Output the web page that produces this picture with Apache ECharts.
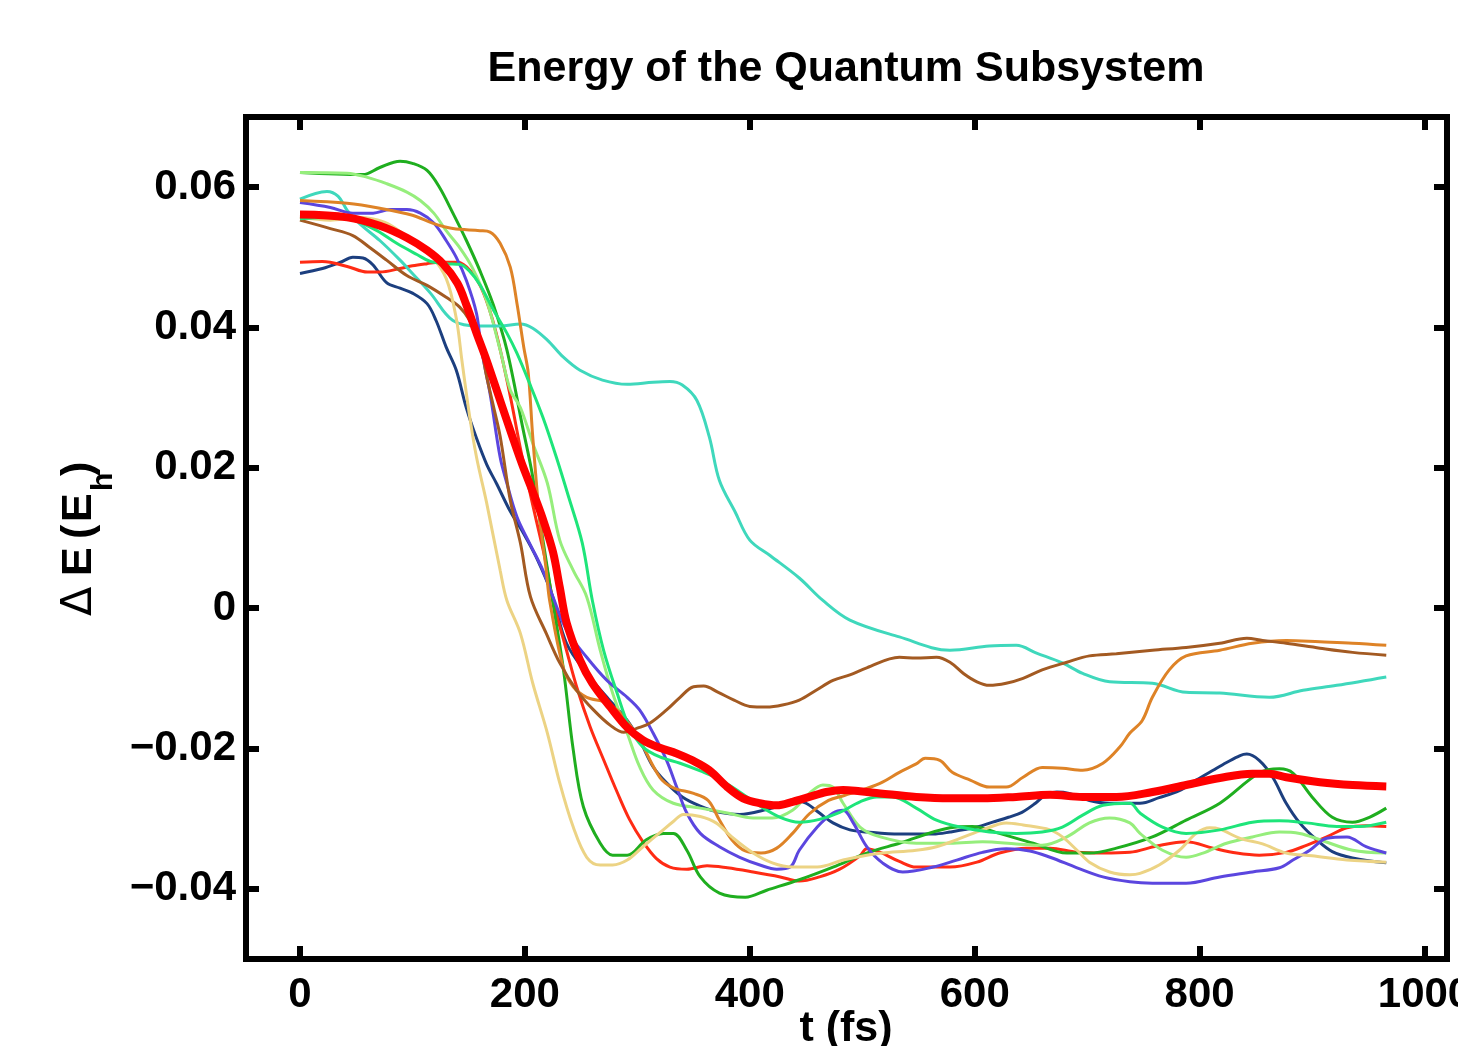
<!DOCTYPE html>
<html>
<head>
<meta charset="utf-8">
<script src="https://cdn.jsdelivr.net/npm/echarts@6/dist/echarts.min.js"></script>
<style>
html,body{margin:0;padding:0;background:#fff;}
#chart{width:1458px;height:1046px;}
</style>
</head>
<body>
<div id="chart"></div>
<script>
// Axis ticks
var xTicks = [0, 200, 400, 600, 800, 1000];
var yTicks = [-0.04, -0.02, 0, 0.02, 0.04, 0.06];

// Trajectories: [t (fs), Delta E (Eh)]
var navyTraj = [[0,0.0477],[20,0.0484],[36,0.0493],[47,0.0500],[56,0.0499],[65,0.0489],[77,0.0464],[89,0.0456],[100,0.0449],[113,0.0434],[121,0.0410],[130,0.0372],[139,0.0339],[148,0.0285],[157,0.0242],[166,0.0205],[175,0.0177],[187,0.0138],[199,0.0106],[210,0.0073],[224,0.0020],[237,-0.0050],[255,-0.0093],[273,-0.0127],[291,-0.0160],[302,-0.0188],[314,-0.0226],[326,-0.0249],[340,-0.0269],[356,-0.0282],[373,-0.0291],[391,-0.0294],[415,-0.0287],[429,-0.0280],[438,-0.0273],[450,-0.0278],[462,-0.0292],[474,-0.0306],[489,-0.0316],[504,-0.0319],[533,-0.0322],[563,-0.0322],[578,-0.0319],[602,-0.0312],[616,-0.0305],[630,-0.0298],[642,-0.0291],[654,-0.0278],[663,-0.0266],[673,-0.0262],[684,-0.0264],[702,-0.0274],[720,-0.0278],[747,-0.0278],[764,-0.0270],[782,-0.0260],[797,-0.0245],[812,-0.0231],[824,-0.0220],[836,-0.0210],[842,-0.0208],[853,-0.0217],[865,-0.0241],[877,-0.0278],[889,-0.0306],[904,-0.0330],[918,-0.0347],[936,-0.0356],[966,-0.0363]];

var redTraj = [[0,0.0493],[20,0.0494],[42,0.0487],[60,0.0479],[71,0.0479],[89,0.0484],[100,0.0488],[113,0.0491],[124,0.0493],[140,0.0493],[152,0.0480],[163,0.0450],[174,0.0395],[186,0.0310],[197,0.0220],[208,0.0140],[218,0.0070],[225,0.0011],[237,-0.0060],[246,-0.0112],[258,-0.0169],[270,-0.0216],[282,-0.0262],[293,-0.0301],[305,-0.0333],[317,-0.0357],[329,-0.0369],[344,-0.0372],[362,-0.0367],[380,-0.0370],[403,-0.0376],[427,-0.0383],[444,-0.0389],[462,-0.0383],[480,-0.0372],[498,-0.0353],[504,-0.0343],[516,-0.0348],[533,-0.0361],[548,-0.0369],[578,-0.0369],[602,-0.0362],[622,-0.0349],[646,-0.0342],[667,-0.0342],[691,-0.0348],[714,-0.0349],[738,-0.0348],[762,-0.0339],[788,-0.0333],[812,-0.0342],[833,-0.0349],[853,-0.0352],[877,-0.0348],[895,-0.0338],[913,-0.0326],[931,-0.0313],[948,-0.0310],[966,-0.0311]];

var greenTraj = [[0,0.0621],[56,0.0618],[71,0.0628],[89,0.0637],[100,0.0634],[113,0.0624],[124,0.0600],[136,0.0563],[148,0.0524],[160,0.0481],[172,0.0432],[184,0.0368],[198,0.0258],[207,0.0187],[222,0.0036],[234,-0.0084],[243,-0.0202],[252,-0.0283],[267,-0.0335],[278,-0.0352],[291,-0.0352],[308,-0.0330],[323,-0.0321],[332,-0.0321],[344,-0.0345],[356,-0.0383],[373,-0.0406],[396,-0.0412],[415,-0.0402],[444,-0.0387],[474,-0.0369],[504,-0.0349],[533,-0.0335],[578,-0.0313],[598,-0.0311],[622,-0.0321],[652,-0.0335],[682,-0.0349],[702,-0.0349],[726,-0.0342],[758,-0.0326],[788,-0.0302],[818,-0.0278],[853,-0.0235],[871,-0.0229],[883,-0.0235],[900,-0.0269],[918,-0.0298],[936,-0.0305],[951,-0.0298],[966,-0.0285]];

var lightGreenTraj = [[0,0.0621],[42,0.0620],[60,0.0614],[77,0.0605],[95,0.0593],[107,0.0581],[119,0.0563],[130,0.0538],[142,0.0514],[153,0.0486],[166,0.0438],[178,0.0368],[187,0.0311],[196,0.0286],[207,0.0235],[220,0.0178],[231,0.0097],[243,0.0054],[255,0.0016],[267,-0.0060],[278,-0.0121],[291,-0.0178],[302,-0.0226],[314,-0.0259],[332,-0.0278],[356,-0.0285],[380,-0.0292],[403,-0.0299],[420,-0.0299],[438,-0.0288],[453,-0.0264],[465,-0.0252],[474,-0.0255],[483,-0.0278],[498,-0.0312],[516,-0.0326],[548,-0.0335],[578,-0.0335],[607,-0.0333],[637,-0.0336],[660,-0.0338],[682,-0.0326],[702,-0.0306],[720,-0.0299],[738,-0.0306],[747,-0.0321],[767,-0.0345],[788,-0.0355],[803,-0.0349],[824,-0.0335],[847,-0.0326],[871,-0.0319],[889,-0.0321],[907,-0.0330],[936,-0.0345],[966,-0.0349]];

var turquoiseTraj = [[0,0.0583],[24,0.0594],[34,0.0587],[42,0.0567],[53,0.0548],[71,0.0524],[89,0.0496],[100,0.0477],[116,0.0449],[136,0.0410],[160,0.0402],[178,0.0402],[196,0.0405],[207,0.0399],[220,0.0382],[234,0.0358],[249,0.0339],[269,0.0325],[291,0.0319],[314,0.0322],[329,0.0323],[340,0.0318],[353,0.0296],[364,0.0244],[373,0.0182],[387,0.0137],[400,0.0097],[418,0.0075],[444,0.0043],[465,0.0011],[489,-0.0017],[533,-0.0041],[578,-0.0060],[613,-0.0054],[637,-0.0053],[655,-0.0064],[678,-0.0078],[696,-0.0093],[720,-0.0105],[758,-0.0107],[788,-0.0120],[818,-0.0121],[862,-0.0127],[892,-0.0117],[922,-0.0110],[966,-0.0098]];

var violetTraj = [[0,0.0578],[27,0.0571],[47,0.0563],[65,0.0563],[80,0.0568],[95,0.0568],[107,0.0563],[119,0.0549],[130,0.0524],[139,0.0500],[148,0.0467],[157,0.0420],[161,0.0372],[169,0.0306],[178,0.0215],[184,0.0178],[193,0.0130],[204,0.0093],[216,0.0054],[225,0.0016],[237,-0.0031],[255,-0.0070],[273,-0.0103],[291,-0.0127],[302,-0.0145],[314,-0.0178],[326,-0.0217],[335,-0.0255],[344,-0.0292],[356,-0.0321],[373,-0.0340],[391,-0.0355],[409,-0.0366],[424,-0.0372],[436,-0.0369],[444,-0.0345],[460,-0.0312],[474,-0.0292],[483,-0.0288],[492,-0.0306],[504,-0.0340],[518,-0.0363],[536,-0.0376],[563,-0.0369],[584,-0.0359],[607,-0.0348],[628,-0.0343],[649,-0.0346],[667,-0.0355],[691,-0.0370],[714,-0.0383],[738,-0.0390],[758,-0.0392],[788,-0.0392],[818,-0.0383],[847,-0.0376],[871,-0.0370],[883,-0.0359],[898,-0.0345],[913,-0.0328],[931,-0.0326],[948,-0.0340],[966,-0.0349]];

var orangeTraj = [[0,0.0581],[42,0.0577],[71,0.0570],[100,0.0560],[119,0.0548],[136,0.0541],[160,0.0538],[169,0.0536],[178,0.0520],[187,0.0486],[193,0.0434],[199,0.0372],[203,0.0335],[207,0.0244],[213,0.0130],[219,0.0054],[222,0.0011],[234,-0.0084],[243,-0.0112],[255,-0.0127],[273,-0.0135],[288,-0.0155],[302,-0.0188],[320,-0.0241],[332,-0.0256],[350,-0.0264],[363,-0.0274],[373,-0.0302],[384,-0.0330],[396,-0.0346],[410,-0.0349],[424,-0.0342],[438,-0.0321],[453,-0.0293],[470,-0.0274],[484,-0.0267],[504,-0.0257],[518,-0.0248],[533,-0.0234],[548,-0.0222],[556,-0.0214],[569,-0.0217],[580,-0.0234],[596,-0.0245],[613,-0.0255],[628,-0.0255],[643,-0.0241],[660,-0.0227],[678,-0.0228],[696,-0.0231],[714,-0.0221],[729,-0.0198],[738,-0.0178],[749,-0.0160],[758,-0.0127],[773,-0.0088],[788,-0.0068],[818,-0.0060],[847,-0.0050],[877,-0.0046],[907,-0.0048],[936,-0.0050],[966,-0.0053]];

var brownTraj = [[0,0.0553],[27,0.0541],[47,0.0531],[62,0.0514],[77,0.0496],[95,0.0474],[113,0.0460],[130,0.0443],[142,0.0429],[151,0.0410],[160,0.0378],[166,0.0330],[172,0.0288],[178,0.0245],[187,0.0154],[196,0.0093],[205,0.0016],[219,-0.0036],[231,-0.0078],[246,-0.0117],[261,-0.0145],[276,-0.0167],[288,-0.0177],[300,-0.0171],[311,-0.0164],[326,-0.0145],[338,-0.0127],[350,-0.0112],[359,-0.0111],[372,-0.0120],[386,-0.0131],[400,-0.0140],[415,-0.0141],[429,-0.0138],[444,-0.0131],[459,-0.0117],[474,-0.0103],[489,-0.0095],[504,-0.0085],[533,-0.0070],[548,-0.0071],[566,-0.0070],[578,-0.0077],[590,-0.0093],[602,-0.0105],[613,-0.0110],[628,-0.0107],[643,-0.0100],[660,-0.0088],[682,-0.0077],[702,-0.0068],[726,-0.0065],[758,-0.0060],[788,-0.0056],[818,-0.0050],[842,-0.0043],[856,-0.0046],[877,-0.0050],[907,-0.0057],[936,-0.0063],[966,-0.0067]];

var khakiTraj = [[0,0.0557],[27,0.0553],[50,0.0557],[75,0.0550],[95,0.0530],[110,0.0512],[116,0.0505],[130,0.0470],[139,0.0413],[144,0.0353],[151,0.0272],[157,0.0215],[166,0.0150],[178,0.0054],[184,0.0011],[196,-0.0036],[207,-0.0107],[220,-0.0178],[231,-0.0249],[243,-0.0312],[255,-0.0355],[267,-0.0366],[278,-0.0366],[291,-0.0359],[305,-0.0340],[320,-0.0320],[332,-0.0304],[341,-0.0294],[356,-0.0297],[370,-0.0306],[384,-0.0326],[403,-0.0349],[420,-0.0363],[438,-0.0369],[460,-0.0369],[483,-0.0359],[504,-0.0352],[518,-0.0349],[548,-0.0345],[566,-0.0340],[587,-0.0328],[607,-0.0316],[628,-0.0306],[643,-0.0309],[667,-0.0316],[678,-0.0326],[691,-0.0345],[702,-0.0362],[720,-0.0376],[738,-0.0380],[747,-0.0378],[764,-0.0366],[782,-0.0345],[797,-0.0321],[809,-0.0313],[818,-0.0315],[836,-0.0328],[856,-0.0336],[877,-0.0349],[900,-0.0353],[931,-0.0359],[966,-0.0362]];

var springTraj = [[0,0.0555],[36,0.0557],[65,0.0541],[86,0.0520],[104,0.0504],[116,0.0494],[130,0.0491],[142,0.0490],[151,0.0480],[160,0.0461],[172,0.0425],[184,0.0392],[193,0.0363],[204,0.0321],[216,0.0272],[228,0.0215],[239,0.0158],[251,0.0093],[260,0.0011],[270,-0.0060],[282,-0.0121],[293,-0.0170],[305,-0.0198],[320,-0.0212],[338,-0.0221],[356,-0.0232],[373,-0.0244],[391,-0.0262],[409,-0.0282],[427,-0.0298],[444,-0.0305],[462,-0.0301],[480,-0.0291],[498,-0.0276],[513,-0.0269],[527,-0.0269],[548,-0.0285],[566,-0.0302],[587,-0.0312],[613,-0.0319],[637,-0.0321],[660,-0.0319],[678,-0.0312],[696,-0.0295],[714,-0.0281],[738,-0.0278],[747,-0.0292],[767,-0.0312],[788,-0.0321],[818,-0.0316],[847,-0.0305],[871,-0.0303],[895,-0.0306],[922,-0.0311],[942,-0.0311],[966,-0.0305]];

var meanTraj = [[0,0.0561],[42,0.0557],[71,0.0545],[95,0.0528],[113,0.0510],[127,0.0491],[140,0.0463],[148,0.0432],[157,0.0392],[166,0.0353],[178,0.0296],[189,0.0244],[198,0.0203],[207,0.0166],[216,0.0127],[225,0.0080],[231,0.0030],[237,-0.0020],[249,-0.0074],[260,-0.0107],[276,-0.0141],[291,-0.0170],[305,-0.0188],[320,-0.0199],[335,-0.0207],[349,-0.0217],[364,-0.0231],[380,-0.0255],[394,-0.0271],[409,-0.0278],[424,-0.0281],[438,-0.0276],[453,-0.0269],[468,-0.0262],[483,-0.0259],[498,-0.0261],[516,-0.0264],[548,-0.0269],[578,-0.0271],[607,-0.0271],[637,-0.0269],[667,-0.0266],[696,-0.0269],[726,-0.0269],[758,-0.0262],[788,-0.0252],[818,-0.0242],[847,-0.0236],[862,-0.0236],[877,-0.0241],[907,-0.0248],[936,-0.0252],[966,-0.0254]];

var trajList = [navyTraj, redTraj, greenTraj, lightGreenTraj, turquoiseTraj, violetTraj, orangeTraj, brownTraj, khakiTraj, springTraj];
var trajColors = ['#1c3f7f', '#ff2b14', '#1fae1f', '#96ee7c', '#3fd8bc', '#5b46df', '#de8327', '#a35a22', '#ecd384', '#1ee57a'];

var FONT = '"Liberation Sans", Arial, Helvetica, sans-serif';

var chart = echarts.init(document.getElementById('chart'), null, {renderer: 'canvas'});

var series = trajList.map(function (d, i) {
  return {
    type: 'line', data: d, showSymbol: false, smooth: 0.35,
    xAxisIndex: 0, yAxisIndex: 0, z: 2,
    lineStyle: {color: trajColors[i], width: 3}
  };
});
series.push({
  type: 'line', data: meanTraj, showSymbol: false, smooth: 0.35,
  xAxisIndex: 0, yAxisIndex: 0, z: 3,
  lineStyle: {color: '#ff0000', width: 8}
});

function yFmt(v) {
  if (Math.abs(v) < 1e-9) return '0';
  return (v < 0 ? '\u2212' : '') + Math.abs(v).toFixed(2);
}
function xFmt(v) { return String(Math.round(v)); }

var tickStyle = {show: true, inside: true, length: 13, lineStyle: {color: '#000', width: 6}};
var labelStyle = {color: '#000', fontSize: 42, fontWeight: 'bold', fontFamily: FONT};
var yl = function (txt, x, y, font) {
  return {type: 'text', x: x, y: y, style: {text: txt, align: 'left', verticalAlign: 'bottom', fill: '#000', font: font}};
};

chart.setOption({
  animation: false,
  backgroundColor: '#fff',
  grid: {left: 246, right: 11, top: 117, bottom: 87, containLabel: false, outerBoundsMode: 'none',
         show: true, borderWidth: 6, borderColor: '#000', backgroundColor: 'transparent'},
  xAxis: [
    {type: 'value', min: -48, max: 1020, position: 'bottom',
     axisLine: {show: false, onZero: false},
     axisTick: Object.assign({customValues: xTicks}, tickStyle),
     axisLabel: Object.assign({customValues: xTicks, margin: 15, hideOverlap: false, formatter: xFmt}, labelStyle),
     splitLine: {show: false}},
    {type: 'value', min: -48, max: 1020, position: 'top',
     axisLine: {show: false, onZero: false},
     axisTick: Object.assign({customValues: xTicks}, tickStyle),
     axisLabel: {show: false}, splitLine: {show: false}}
  ],
  yAxis: [
    {type: 'value', min: -0.05, max: 0.07, position: 'left',
     axisLine: {show: false, onZero: false},
     axisTick: Object.assign({customValues: yTicks}, tickStyle),
     axisLabel: Object.assign({customValues: yTicks, margin: 10, formatter: yFmt}, labelStyle),
     splitLine: {show: false}},
    {type: 'value', min: -0.05, max: 0.07, position: 'right',
     axisLine: {show: false, onZero: false},
     axisTick: Object.assign({customValues: yTicks}, tickStyle),
     axisLabel: {show: false}, splitLine: {show: false}}
  ],
  graphic: [
    {type: 'text', x: 846, y: 69, style: {text: 'Energy of the Quantum Subsystem', align: 'center', verticalAlign: 'middle', fill: '#000', font: 'bold 43px ' + FONT}},
    {type: 'text', x: 846, y: 1008, style: {text: 't (fs)', align: 'center', verticalAlign: 'top', fill: '#000', font: 'bold 43px ' + FONT}},
    {type: 'group', x: 93, y: 540, rotation: Math.PI / 2, children: [
      yl('\u0394', -76, 8, '43px "DejaVu Sans", ' + FONT),
      yl('E', -36, 8, 'bold 43px ' + FONT),
      yl('(', 1, 8, 'bold 43px ' + FONT),
      yl('E', 18, 8, 'bold 43px ' + FONT),
      yl('h', 49, 26, 'bold 30px ' + FONT),
      yl(')', 64, 8, 'bold 43px ' + FONT)
    ]}
  ],
  series: series
});
</script>
</body>
</html>
